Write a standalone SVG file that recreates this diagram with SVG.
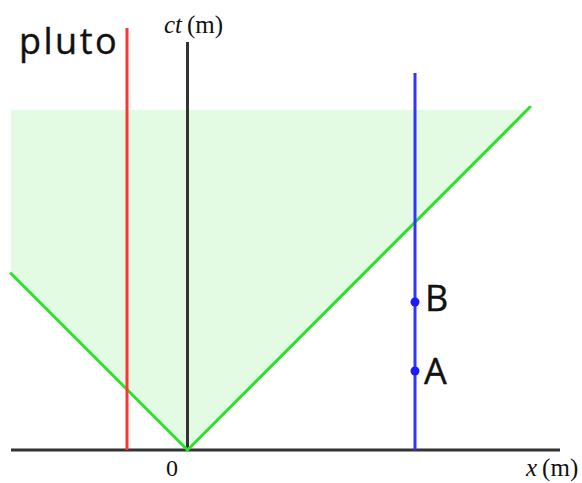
<svg xmlns="http://www.w3.org/2000/svg" width="582" height="483" viewBox="0 0 582 483">
<style>
.ax{stroke:#333;stroke-width:3;fill:none}
.cone{stroke:#2ee02e;stroke-width:3;fill:none;stroke-linecap:round}
.wl{stroke-width:3;fill:none}
.sans{font-family:"Open Sans","DejaVu Sans",sans-serif;fill:#111;stroke:#111;stroke-width:0.4}
.serif{font-family:"Liberation Serif","DejaVu Serif",serif;fill:#111}
</style>
<rect width="582" height="483" fill="#fff"/>
<g id="lightcone-region">
<polygon points="11,110 527.5,110 187.5,450 11,273.5" fill="#e3fbe3"/>
</g>
<g id="connectors">
<line class="ax" x1="187.5" y1="42" x2="187.5" y2="450"/>
<line class="ax" x1="11" y1="450" x2="560" y2="450"/>
<polyline class="cone" points="11,273.5 187.5,450 530,107"/>
<line class="wl" x1="127" y1="28" x2="127" y2="450" stroke="#ff3535"/>
<line class="wl" x1="415" y1="73" x2="415" y2="450" stroke="#3333ff"/>
</g>
<g id="pointB">
<circle cx="415" cy="302" r="4.5" fill="#1a1aff"/>
<text class="sans" x="425" y="311" font-size="36">B</text>
</g>
<g id="pointA">
<circle cx="415" cy="371" r="4.5" fill="#1a1aff"/>
<text class="sans" x="424" y="384" font-size="36">A</text>
</g>
<g id="labels">
<text class="sans" x="19" y="54" font-size="36" letter-spacing="2.5">pluto</text>
<text class="serif" x="164" y="33" font-size="25"><tspan font-style="italic">ct</tspan><tspan dx="5">(m)</tspan></text>
<text class="serif" x="166" y="476" font-size="24">0</text>
<text class="serif" x="526" y="476" font-size="25"><tspan font-style="italic">x</tspan><tspan dx="5">(m)</tspan></text>
</g>
</svg>
